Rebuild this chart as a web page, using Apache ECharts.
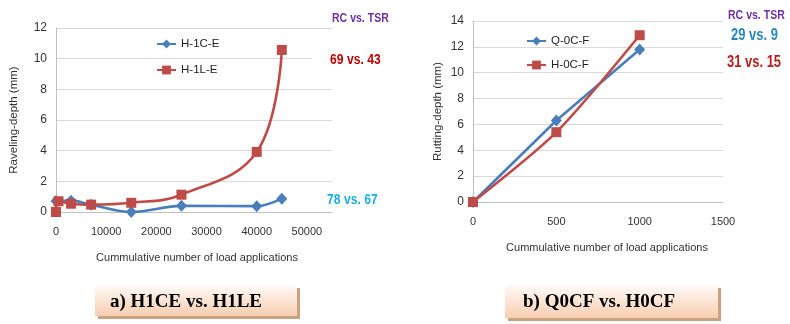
<!DOCTYPE html>
<html>
<head>
<meta charset="utf-8">
<script src="https://cdn.jsdelivr.net/npm/echarts@6/dist/echarts.min.js"></script>
<style>
html,body{margin:0;padding:0;background:#fff;}
#c{width:790px;height:324px;}
</style>
</head>
<body>
<div id="c"></div>
<script>
// Left panel: raveling
var leftXC = [0, 3000, 7000, 15000, 25000, 40000, 45000];
var leftC  = [0.72, 0.74, 0.48, 0.0, 0.4, 0.38, 0.87];
var leftXL = [0, 500, 3000, 7000, 15000, 25000, 40000, 45000];
var leftL  = [0.0, 0.7, 0.54, 0.48, 0.6, 1.13, 3.92, 10.57];
// Right panel: rutting
var rightX = [0, 500, 1000];
var rightQ = [0, 6.3, 11.8];
var rightH = [0, 5.4, 12.9];
var seriesNames = ['H-1C-E', 'H-1L-E', 'Q-0C-F', 'H-0C-F'];
var captions = ['a) H1CE vs. H1LE', 'b) Q0CF vs. H0CF'];
var notes = ['RC vs. TSR', '69 vs. 43', '78 vs. 67', 'RC vs. TSR', '29 vs. 9', '31 vs. 15'];

function pairs(xs, ys){ return xs.map(function(x,i){ return [x, ys[i]]; }); }

var BLUE = '#4A7EBB', RED = '#BE4B48';
var FONT = "'Liberation Sans', Arial, sans-serif";

var chart = echarts.init(document.getElementById('c'), null, {renderer:'canvas'});

function xAxisCfg(idx, max, interval, hideLast, namePad){
  return {
    type:'value', gridIndex: idx, min:0, max:max, interval:interval,
    name:'Cummulative number of load applications', nameLocation:'middle', nameGap:40,
    nameTextStyle:{fontFamily:FONT, fontSize:11, color:'#333', padding:[0,0,0,namePad]},
    axisLine:{show:true, lineStyle:{color:'#BFBFBF', width:1}},
    axisTick:{show:false},
    splitLine:{show:false},
    axisLabel:{fontFamily:FONT, fontSize:11, color:'#333', margin:14,
      formatter:function(v){ return (hideLast && v > 50000) ? '' : String(v); }}
  };
}
function yAxisCfg(idx, max, name, gap){
  return {
    type:'value', gridIndex: idx, min:0, max:max, interval:2,
    name:name, nameLocation:'middle', nameGap:gap,
    nameTextStyle:{fontFamily:FONT, fontSize:11.5, color:'#333'},
    axisLine:{show:true, lineStyle:{color:'#BFBFBF', width:1}},
    axisTick:{show:false},
    splitLine:{show:true, lineStyle:{color:'#D9D9D9', width:1}},
    axisLabel:{fontFamily:FONT, fontSize:12, color:'#333', margin:9}
  };
}

function captionBox(x, y, w, h, text, tx, ty){
  return [
    {type:'rect', shape:{x:x+3, y:y+3, width:w, height:h}, style:{fill:'#C9A27F'}, z:10},
    {type:'rect', shape:{x:x, y:y, width:w, height:h},
     style:{fill:new echarts.graphic.LinearGradient(0,0,0,1,[{offset:0,color:'#FFFBF8'},{offset:1,color:'#F8CDB0'}])}, z:11},
    {type:'text', x:tx, y:ty, style:{text:text, fontFamily:"'Liberation Serif', 'Times New Roman', serif", fontWeight:'bold', fontSize:19, fill:'#000', textVerticalAlign:'middle'}, z:12}
  ];
}
function note(x, y, text, color, size){
  return {type:'text', x:x, y:y, scaleX:0.81, style:{text:text, fontFamily:FONT, fontWeight:'bold', fontSize:size, fill:color, textVerticalAlign:'middle'}, z:20};
}

var graphics = []
  .concat(captionBox(95, 285, 202, 31, captions[0], 110, 302))
  .concat(captionBox(505, 285, 213, 33, captions[1], 523, 302))
  .concat([
    note(332, 18, notes[0], '#7030A0', 13),
    {type:'rect', shape:{x:312, y:50, width:22, height:18}, style:{fill:'#fff'}, z:15},
    note(330, 60, notes[1], '#C00000', 15),
    note(327, 200, notes[2], '#1AADE4', 15),
    note(728, 15, notes[3], '#7030A0', 13),
    note(731, 36, notes[4], '#2A86BE', 16),
    note(727, 63, notes[5], '#B81C1C', 16)
  ]);

var legendStyle = {fontFamily:FONT, fontSize:11.5, color:'#222'};

chart.setOption({
  animation:false,
  backgroundColor:'#fff',
  grid:[
    {left:56, top:28, width:276, height:184},
    {left:473, top:21, width:250, height:181}
  ],
  xAxis:[ xAxisCfg(0, 55000, 10000, true, 6), xAxisCfg(1, 1500, 500, false, 18) ],
  yAxis:[ yAxisCfg(0, 12, 'Raveling-depth (mm)', 36), yAxisCfg(1, 14, 'Rutting-depth (mm)', 29) ],
  legend:[
    {data:[seriesNames[0], seriesNames[1]], orient:'vertical', left:156, top:38, padding:0, itemWidth:19, itemHeight:11, itemGap:14, textStyle:legendStyle},
    {data:[seriesNames[2], seriesNames[3]], orient:'vertical', left:526, top:35, padding:0, itemWidth:19, itemHeight:11, itemGap:12, textStyle:legendStyle}
  ],
  series:[
    {name:seriesNames[0], type:'line', xAxisIndex:0, yAxisIndex:0, data:pairs(leftXC, leftC), smooth:0.35,
     symbol:'diamond', symbolSize:[11,12], itemStyle:{color:BLUE}, lineStyle:{color:BLUE, width:2.6}, z:3},
    {name:seriesNames[1], type:'line', xAxisIndex:0, yAxisIndex:0, data:pairs(leftXL, leftL), smooth:0.4,
     symbol:'rect', symbolSize:10, itemStyle:{color:RED}, lineStyle:{color:RED, width:2.6}, z:4},
    {name:seriesNames[2], type:'line', xAxisIndex:1, yAxisIndex:1, data:pairs(rightX, rightQ), smooth:false,
     symbol:'diamond', symbolSize:[11,12], itemStyle:{color:BLUE}, lineStyle:{color:BLUE, width:2.6}, z:3},
    {name:seriesNames[3], type:'line', xAxisIndex:1, yAxisIndex:1, data:pairs(rightX, rightH), smooth:0.25,
     symbol:'rect', symbolSize:10, itemStyle:{color:RED}, lineStyle:{color:RED, width:2.6}, z:4}
  ],
  graphic:graphics
});
</script>
</body>
</html>
